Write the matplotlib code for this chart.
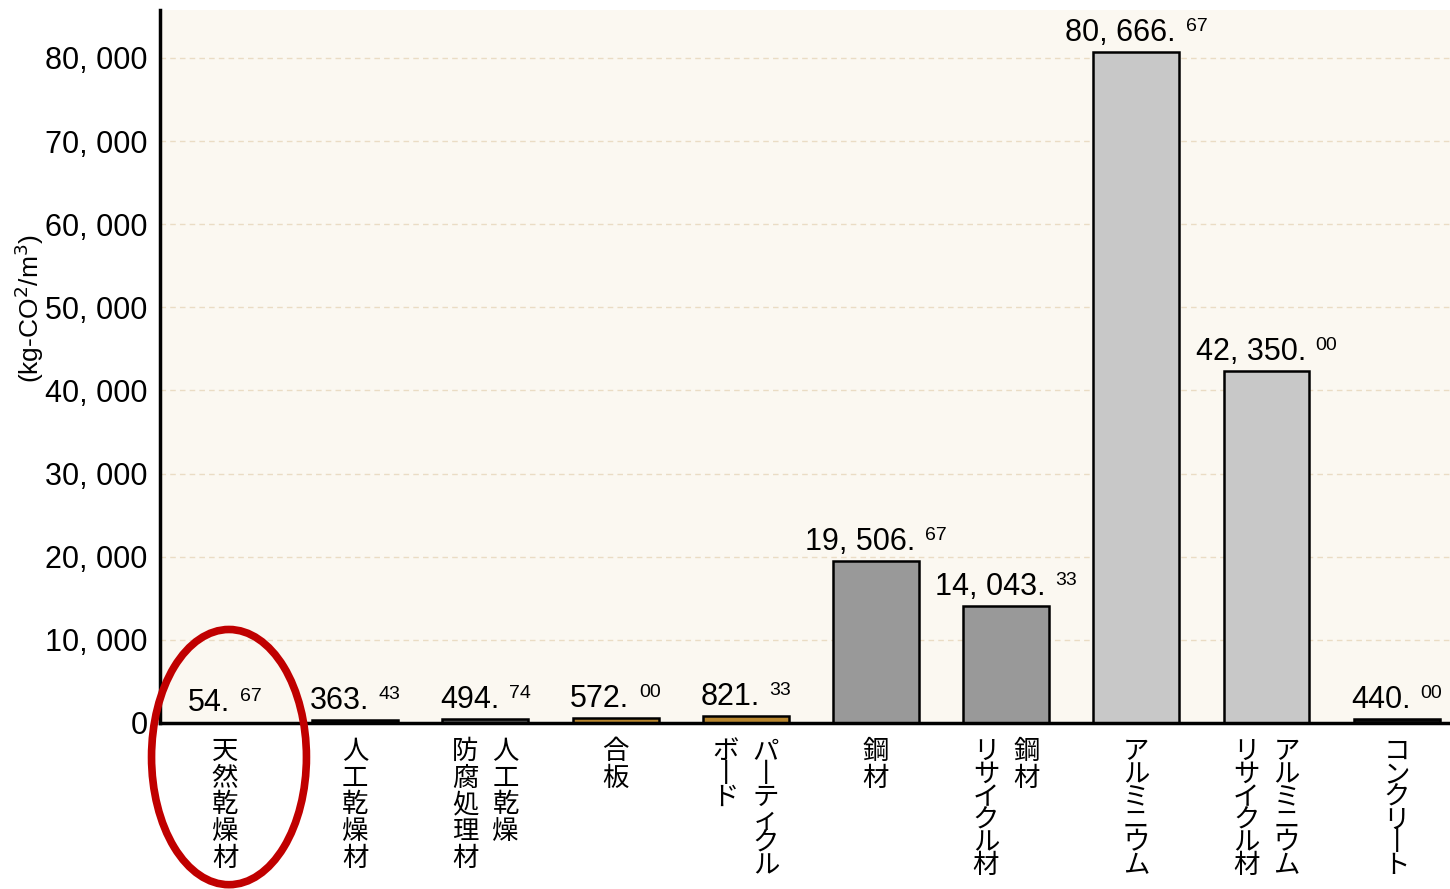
import matplotlib
matplotlib.use('Agg')
import matplotlib.pyplot as plt
from matplotlib import font_manager
from matplotlib.patches import Ellipse
from matplotlib.offsetbox import TextArea, HPacker, AnnotationBbox

# data
categories = ['天然乾燥材', '人工乾燥材', '人工乾燥防腐処理材', '合板', 'パーティクルボード',
              '鋼材', '鋼材リサイクル材', 'アルミニウム', 'アルミニウムリサイクル材', 'コンクリート']
label_columns = [['天然乾燥材'], ['人工乾燥材'], ['人工乾燥', '防腐処理材'], ['合板'],
                 ['パーティクル', 'ボード'], ['鋼材'], ['鋼材', 'リサイクル材'], ['アルミニウム'],
                 ['アルミニウム', 'リサイクル材'], ['コンクリート']]
values = [54.67, 363.43, 494.74, 572.00, 821.33, 19506.67, 14043.33, 80666.67, 42350.00, 440.00]
colors = ['#3a3a3a', '#111111', '#555555', '#b8862e', '#b8862e',
          '#999999', '#999999', '#c8c8c8', '#c8c8c8', '#111111']
yticks = [0, 10000, 20000, 30000, 40000, 50000, 60000, 70000, 80000]
highlight = 0

installed = {f.name for f in font_manager.fontManager.ttflist}
num_font = ['Liberation Sans Narrow' if 'Liberation Sans Narrow' in installed else 'Liberation Sans',
            'Noto Sans CJK JP']
cjk_font = ['Noto Sans CJK JP', 'DejaVu Sans']
plt.rcParams['font.family'] = cjk_font

fig = plt.figure(figsize=(14.5, 8.89), dpi=100)
ax = fig.add_axes([160 / 1450, 1 - 723 / 889, 1 - 160 / 1450, 713 / 889])
ax.set_facecolor('#fbf8f1')

x = list(range(len(categories)))
ax.bar(x, values, width=0.66, color=colors, edgecolor='black', linewidth=1.8, zorder=3)

ax.set_xlim(-0.5, 9.41)
ax.set_ylim(0, 85770)
ax.set_yticks(yticks)
ax.set_yticklabels([f'{t:,}'.replace(',', ', ') for t in yticks], fontfamily=num_font, fontsize=22)
ax.tick_params(axis='y', length=0, pad=9)
ax.set_xticks([])
ax.grid(axis='y', color='#eadcc4', linestyle=(0, (4, 3)), linewidth=1.0, zorder=0)
for s in ['top', 'right']:
    ax.spines[s].set_visible(False)
ax.spines['left'].set_linewidth(2.5)
ax.spines['bottom'].set_linewidth(2.5)
ax.spines['bottom'].set_zorder(4)

ax.set_ylabel('(kg-CO$^2$/m$^3$)', fontfamily=num_font, fontsize=19, labelpad=0)
ax.yaxis.set_label_coords(-0.088, 0.582)

# value labels with raised decimals
for i, v in enumerate(values):
    whole = f'{int(v):,}'.replace(',', ', ') + '.'
    dec = f'{v:.2f}'.split('.')[1]
    t1 = TextArea(whole, textprops=dict(fontfamily=num_font, fontsize=22, color='black'))
    t2 = TextArea(dec, textprops=dict(fontfamily=num_font, fontsize=14, color='black'))
    box = HPacker(children=[t1, t2], align='top', pad=0, sep=7)
    ab = AnnotationBbox(box, (i, v), xybox=(0, 3), xycoords='data', boxcoords='offset points',
                        box_alignment=(0.5, 0), frameon=False, zorder=5)
    ax.add_artist(ab)

# vertical category labels, columns right to left
for i, cols in enumerate(label_columns):
    n = len(cols)
    for j, col in enumerate(cols):
        dx = (n - 1) / 2 * 0.31 - j * 0.31
        all_kanji = all(ord(c) >= 0x4E00 for c in col)
        txt = '\n'.join(col.replace('ー', '丨'))
        ax.annotate(txt, (i + dx, 0), xytext=(0, -11), textcoords='offset points',
                    ha='center', va='top', fontsize=19, linespacing=0.98 if all_kanji else 0.8,
                    fontfamily=cjk_font, annotation_clip=False)

ell = Ellipse((highlight + 0.03, -4100), width=1.19, height=30700, fill=False,
              edgecolor='#c00000', linewidth=5.5, clip_on=False, zorder=6)
ax.add_patch(ell)

fig.savefig('out.png', dpi=100, facecolor='white')
